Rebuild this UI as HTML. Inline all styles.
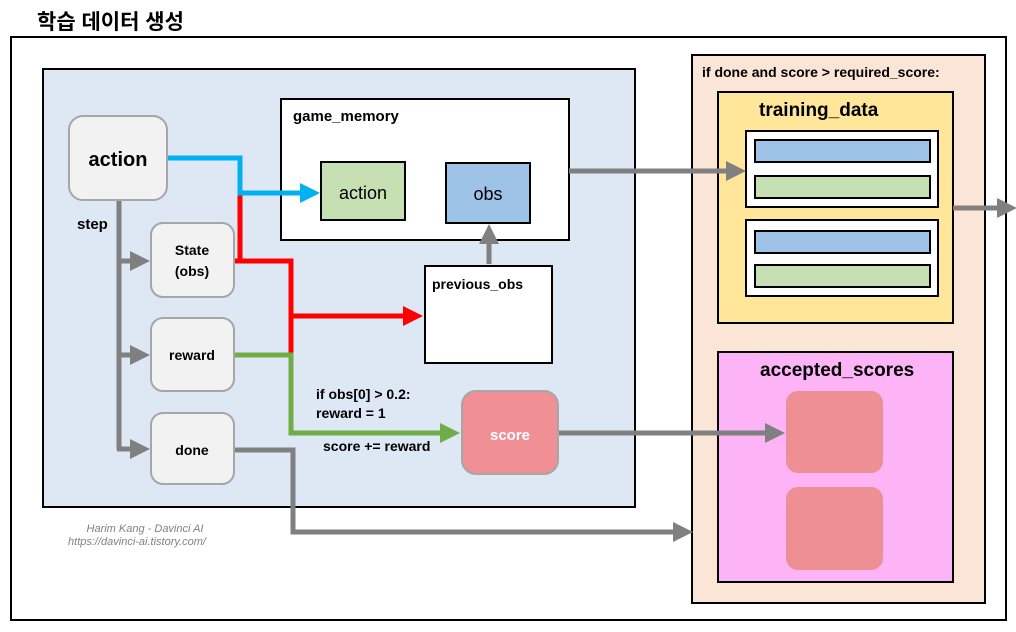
<!DOCTYPE html>
<html><head><meta charset="utf-8"><style>
html,body{margin:0;padding:0;background:#fff;}
svg{display:block;}
text{font-family:"Liberation Sans","Noto Sans CJK KR",sans-serif;font-weight:bold;fill:#000;}
</style></head><body>
<svg width="1016" height="632" viewBox="0 0 1016 632" xmlns="http://www.w3.org/2000/svg">
<defs>
<marker id="ag" markerWidth="4" markerHeight="4" refX="3" refY="2" orient="auto" markerUnits="strokeWidth"><path d="M0,0 L4,2 L0,4z" fill="#808080"/></marker>
<marker id="ab" markerWidth="4" markerHeight="4" refX="3" refY="2" orient="auto" markerUnits="strokeWidth"><path d="M0,0 L4,2 L0,4z" fill="#00b0f0"/></marker>
<marker id="ar" markerWidth="4" markerHeight="4" refX="3" refY="2" orient="auto" markerUnits="strokeWidth"><path d="M0,0 L4,2 L0,4z" fill="#ff0000"/></marker>
<marker id="agr" markerWidth="4" markerHeight="4" refX="3" refY="2" orient="auto" markerUnits="strokeWidth"><path d="M0,0 L4,2 L0,4z" fill="#70ad47"/></marker>
</defs>
<text x="37" y="29" font-size="21">학습 데이터 생성</text>
<rect x="11" y="37" width="995" height="583" fill="#fff" stroke="#000" stroke-width="2"/>
<rect x="43" y="69" width="592" height="438" fill="#dee8f4" stroke="#000" stroke-width="2"/>
<!-- right panel -->
<rect x="692" y="55" width="293" height="548" fill="#fbe5d6" stroke="#000" stroke-width="2"/>
<text x="702" y="77" font-size="14">if done and score &gt; required_score:</text>
<rect x="718" y="92" width="235" height="231" fill="#ffe699" stroke="#000" stroke-width="2"/>
<text x="759" y="116" font-size="19">training_data</text>
<rect x="746" y="131" width="192" height="76" fill="#fff" stroke="#000" stroke-width="2"/>
<rect x="755" y="140" width="175" height="22" fill="#9dc3e6" stroke="#000" stroke-width="2"/>
<rect x="755" y="176" width="175" height="22" fill="#c6e0b4" stroke="#000" stroke-width="2"/>
<rect x="746" y="220" width="192" height="76" fill="#fff" stroke="#000" stroke-width="2"/>
<rect x="755" y="231" width="175" height="22" fill="#9dc3e6" stroke="#000" stroke-width="2"/>
<rect x="755" y="265" width="175" height="22" fill="#c6e0b4" stroke="#000" stroke-width="2"/>
<rect x="718" y="352" width="235" height="230" fill="#fdb4f7" stroke="#000" stroke-width="2"/>
<text x="760" y="376" font-size="19">accepted_scores</text>
<rect x="786" y="391" width="97" height="82" rx="12" fill="#ee9093"/>
<rect x="786" y="487" width="97" height="83" rx="12" fill="#ee9093"/>
<!-- game memory -->
<rect x="281" y="99" width="288" height="141" fill="#fff" stroke="#000" stroke-width="2"/>
<text x="293" y="121" font-size="15">game_memory</text>
<rect x="321" y="162" width="84" height="58" fill="#c6e0b4" stroke="#000" stroke-width="2"/>
<text x="363" y="199" font-size="18" text-anchor="middle" style="font-weight:normal">action</text>
<rect x="446" y="163" width="84" height="60" fill="#9dc3e6" stroke="#000" stroke-width="2"/>
<text x="488" y="200" font-size="18" text-anchor="middle" style="font-weight:normal">obs</text>
<rect x="425" y="266" width="127" height="97" fill="#fff" stroke="#000" stroke-width="2"/>
<text x="432" y="289" font-size="14">previous_obs</text>
<!-- lines -->
<g fill="none" stroke-width="5">
<path d="M119,200 V450" stroke="#808080"/>
<path d="M117,261 H145" stroke="#808080" marker-end="url(#ag)"/>
<path d="M117,355 H145" stroke="#808080" marker-end="url(#ag)"/>
<path d="M117,449 H145" stroke="#808080" marker-end="url(#ag)"/>
<path d="M234,450 H293 V532 H688" stroke="#808080" marker-end="url(#ag)"/>
<path d="M558,433 H780" stroke="#808080" marker-end="url(#ag)"/>
<path d="M569,171 H741" stroke="#808080" marker-end="url(#ag)"/>
<path d="M953,208 H1012" stroke="#808080" marker-end="url(#ag)"/>
<path d="M489,264 V229" stroke="#808080" marker-end="url(#ag)"/>
<path d="M240,190 V262 M234,261 H291 V355 M291,316 H418" stroke="#ff0000" marker-end="url(#ar)"/>
<path d="M167,158 H240 V193 H315" stroke="#00b0f0" marker-end="url(#ab)"/>
<path d="M234,355 H291 V433 H455" stroke="#70ad47" marker-end="url(#agr)"/>
</g>
<!-- left nodes -->
<rect x="69" y="116" width="98" height="84" rx="14" fill="#f2f2f2" stroke="#a6a6a6" stroke-width="2"/>
<text x="118" y="166" font-size="20" text-anchor="middle">action</text>
<text x="77" y="229" font-size="15">step</text>
<rect x="151" y="223" width="83" height="74" rx="12" fill="#f2f2f2" stroke="#a6a6a6" stroke-width="2"/>
<text x="192" y="255" font-size="14" text-anchor="middle">State</text>
<text x="192" y="276" font-size="14" text-anchor="middle">(obs)</text>
<rect x="151" y="318" width="83" height="73" rx="12" fill="#f2f2f2" stroke="#a6a6a6" stroke-width="2"/>
<text x="192" y="360" font-size="14" text-anchor="middle">reward</text>
<rect x="151" y="413" width="83" height="71" rx="12" fill="#f2f2f2" stroke="#a6a6a6" stroke-width="2"/>
<text x="192" y="455" font-size="14" text-anchor="middle">done</text>
<text x="316" y="399" font-size="14">if obs[0] &gt; 0.2:</text>
<text x="316" y="418" font-size="14">reward = 1</text>
<text x="323" y="451" font-size="14">score += reward</text>
<rect x="462" y="391" width="96" height="83" rx="14" fill="#f09095" stroke="#a6a6a6" stroke-width="2"/>
<text x="510" y="440" font-size="15" text-anchor="middle" style="fill:#fff">score</text>
<text x="145" y="532" font-size="11" text-anchor="middle" font-style="italic" style="font-weight:normal;fill:#808080">Harim Kang - Davinci AI</text>
<text x="137" y="545" font-size="11" text-anchor="middle" font-style="italic" style="font-weight:normal;fill:#808080">https://davinci-ai.tistory.com/</text>
</svg>
</body></html>
